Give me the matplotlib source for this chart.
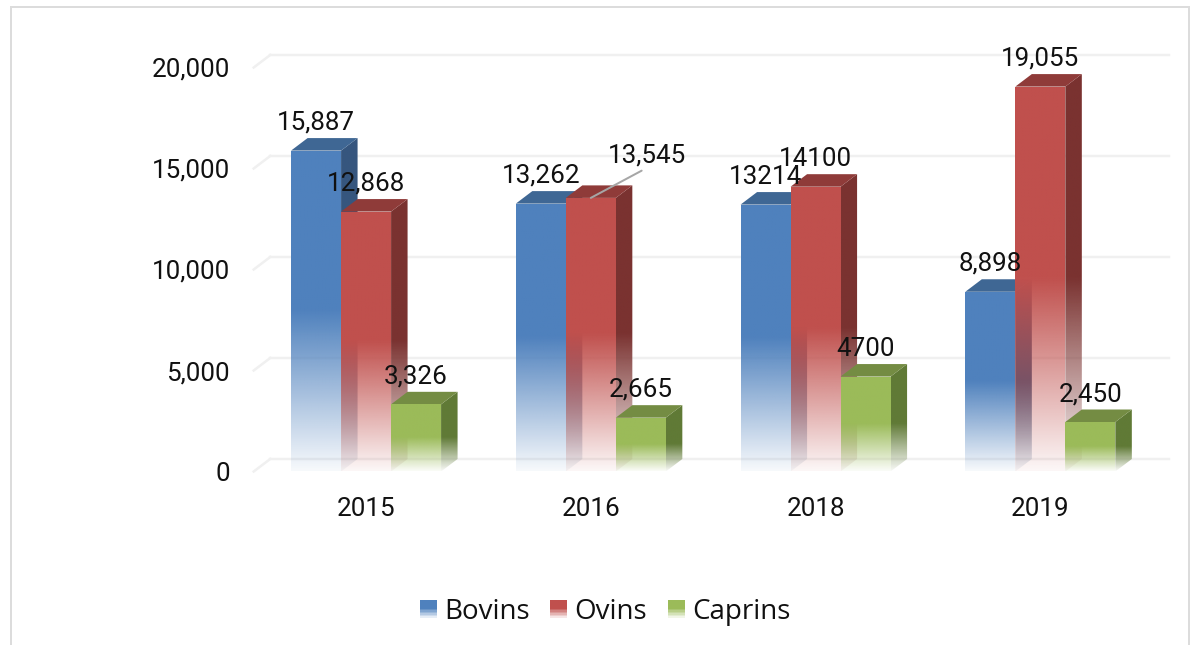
#!/usr/bin/env python3
"""Bovins / Ovins / Caprins 3D-look bars with faded bottoms."""
import numpy as np
import matplotlib
matplotlib.use("Agg")
import matplotlib.pyplot as plt  # noqa: E402
from matplotlib.colors import to_rgb  # noqa: E402
from matplotlib.legend_handler import HandlerBase  # noqa: E402
from matplotlib.patches import Polygon, Rectangle  # noqa: E402

years = ["2015", "2016", "2018", "2019"]
bovins = [15887, 13262, 13214, 8898]
ovins = [12868, 13545, 14100, 19055]
caprins = [3326, 2665, 4700, 2450]
bovins_labels = ["15,887", "13,262", "13214", "8,898"]
ovins_labels = ["12,868", "13,545", "14100", "19,055"]
caprins_labels = ["3,326", "2,665", "4700", "2,450"]
yticks = [0, 5000, 10000, 15000, 20000]

# name, values, labels, front, top, side
SERIES = [
    ("Bovins", bovins, bovins_labels, "#4f81bd", "#3f6794", "#36567e"),
    ("Ovins", ovins, ovins_labels, "#c0504d", "#8f3b39", "#7a3230"),
    ("Caprins", caprins, caprins_labels, "#9bbb59", "#748c43", "#607a36"),
]

W, H = 1193, 645
PX = 0.72  # points per pixel at dpi 100
NUM_FONT = ["Roboto", "DejaVu Sans"]
NUM_SIZE = 26 * PX
LEGEND_FONT = ["Open Sans", "DejaVu Sans"]

fig = plt.figure(figsize=(W / 100, H / 100), dpi=100)
ax = fig.add_axes([253.7 / W, 1 - 471.5 / H, 899 / W, 404 / H])

# chart frame, its bottom edge runs off the picture
fig.add_artist(Rectangle((10.5 / W, -0.05), 1178.5 / W, 1.05 - 7 / H, transform=fig.transFigure,
                         fill=False, ec="#dcdcdc", lw=2 * PX))

bar_w = 50 / (899 / 4)
depth_x = 16.5 / (899 / 4)
depth_y = 12.5 / (404 / 20000)


def gradient_face(pts, color, height, z):
    """Polygon face, solid on its upper half, fading out towards the floor."""
    xs = [p[0] for p in pts]
    ys = [p[1] for p in pts]
    lo, hi = min(ys), max(ys)
    rows = 128
    y_vals = np.linspace(hi, lo, rows)
    rel = np.clip((y_vals - lo) / max(height, 1), 0, 1)
    alpha = np.clip(0.05 + 0.95 * rel / 0.5, 0, 1)
    img = np.ones((rows, 1, 4))
    img[:, 0, :3] = to_rgb(color)
    img[:, 0, 3] = alpha
    im = ax.imshow(img, extent=(min(xs), max(xs), lo, hi), aspect="auto",
                   interpolation="bilinear", zorder=z)
    im.set_clip_path(Polygon(pts, closed=True, transform=ax.transData))


# back wall grid lines and the diagonal on the side wall
for t in yticks:
    ax.plot([-0.5 + depth_x, 3.5 + depth_x], [t + depth_y, t + depth_y],
            color="#f0f0f0", lw=2.5 * PX, zorder=1, clip_on=False)
    ax.plot([-0.5, -0.5 + depth_x], [t, t + depth_y],
            color="#f0f0f0", lw=2.5 * PX, zorder=1, clip_on=False)

z = 2
for i in range(len(years)):
    for j, (name, vals, labels, front, top, side) in enumerate(SERIES):
        x0 = i + (j - 1.5) * bar_w
        x1 = x0 + bar_w
        v = vals[i]
        # side face first, so the next bar's front sits over it
        gradient_face([(x1, 0), (x1 + depth_x, depth_y), (x1 + depth_x, v + depth_y), (x1, v)],
                      side, v, z)
        ax.add_patch(Polygon([(x0, v), (x1, v), (x1 + depth_x, v + depth_y), (x0 + depth_x, v + depth_y)],
                             closed=True, fc=top, ec="none", zorder=z + 1))
        gradient_face([(x0, 0), (x1, 0), (x1, v), (x0, v)], front, v, z + 2)
        z += 3

for i in range(len(years)):
    for j, (name, vals, labels, front, top, side) in enumerate(SERIES):
        xc = i + (j - 1) * bar_w
        if labels[i] == "13,545":  # moved label with a leader line
            ax.annotate(labels[i], xy=(xc, vals[i]), xytext=(56 * PX, 42 * PX), textcoords="offset points",
                        ha="center", va="center", fontsize=NUM_SIZE, family=NUM_FONT, color="#111111", zorder=500,
                        arrowprops=dict(arrowstyle="-", color="#a6a6a6", lw=2 * PX, shrinkA=0, shrinkB=0,
                                        relpos=(0.5, 0)))
        else:
            ax.annotate(labels[i], xy=(xc, vals[i]), xytext=(0, 28 * PX), textcoords="offset points",
                        ha="center", va="center", fontsize=NUM_SIZE, family=NUM_FONT, color="#111111", zorder=500)

ax.set_xlim(-0.5, 3.5)
ax.set_ylim(0, 20000)
ax.set_xticks(range(len(years)), years)
ax.set_yticks(yticks, [f"{t:,}" for t in yticks])
ax.tick_params(length=0, labelsize=NUM_SIZE, colors="#111111")
ax.tick_params(axis="x", pad=25 * PX)
ax.tick_params(axis="y", pad=24 * PX)
for lab in ax.get_xticklabels() + ax.get_yticklabels():
    lab.set_family(NUM_FONT)
for s in ax.spines.values():
    s.set_visible(False)
ax.patch.set_visible(False)


class FadeHandle(HandlerBase):
    """Legend swatch made of strips, fading towards the bottom like the bars."""

    def create_artists(self, legend, orig, xd, yd, width, height, fontsize, trans):
        strips = []
        n = 12
        base = np.array(to_rgb(orig.get_facecolor()))
        for k in range(n):
            a = 1.0 if k < 6 else 1.0 - (k - 5) / 7
            col = base * a + (1 - a)
            strips.append(Rectangle((-xd, -yd + height * (1 - (k + 1) / n)), width, height / n + 0.4,
                                    fc=col, ec="none", transform=trans, zorder=n - k))
        return strips


handles = [Rectangle((0, 0), 1, 1, fc=s[3]) for s in SERIES]
leg = fig.legend(handles, [s[0] for s in SERIES], ncol=3, frameon=False,
                 loc="center", bbox_to_anchor=(605 / W, 1 - 612 / H),
                 handler_map={Rectangle: FadeHandle()},
                 prop={"family": LEGEND_FONT, "size": 27.7 * PX},
                 handlelength=0.62, handleheight=0.62, handletextpad=0.25,
                 columnspacing=0.75, borderpad=0, labelcolor="#111111")

fig.savefig("out.png", dpi=100)
